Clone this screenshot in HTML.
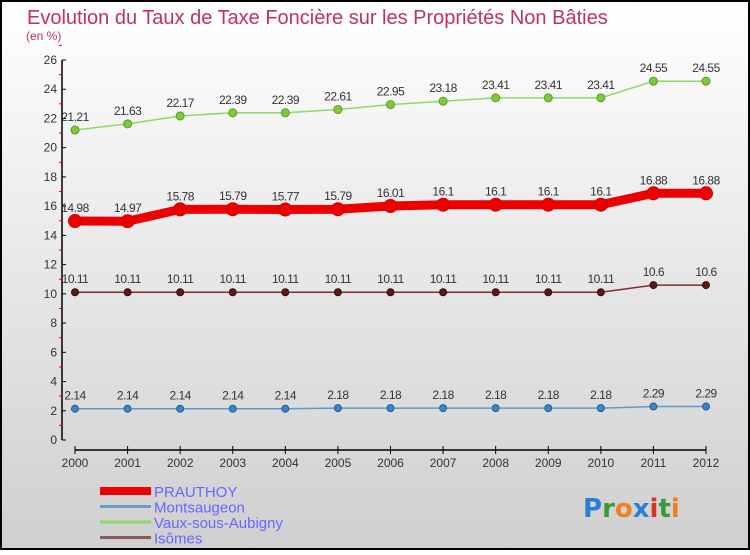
<!DOCTYPE html>
<html><head><meta charset="utf-8">
<style>
html,body{margin:0;padding:0;}
body{width:750px;height:550px;overflow:hidden;font-family:"Liberation Sans",sans-serif;}
</style></head>
<body>
<svg id="chart" width="750" height="550" xmlns="http://www.w3.org/2000/svg">
<defs>
<linearGradient id="bg" x1="0" y1="0" x2="0" y2="1">
<stop offset="0" stop-color="#ffffff"/><stop offset="1" stop-color="#cfcfcf"/>
</linearGradient>
</defs>
<rect x="1" y="1" width="748" height="548" fill="url(#bg)" stroke="#000" stroke-width="2"/>
<text x="27" y="24" font-size="20" fill="#c0306a" font-family="Liberation Sans, sans-serif">Evolution du Taux de Taxe Foncière sur les Propriétés Non Bâties</text>
<text x="26" y="40" font-size="12" fill="#c0306a">(en %)</text>
<g id="axes"></g>
<g id="series"></g>
<g id="legend"></g>
<text x="583" y="517" font-size="26" font-weight="bold" fill="#2a7fd4" font-family="DejaVu Sans, sans-serif">P<tspan fill="#3a9a3a">r</tspan><tspan fill="#f08020">o</tspan><tspan fill="#2a7fd4">x</tspan><tspan fill="#e03020">i</tspan><tspan fill="#3a9a3a">t</tspan><tspan fill="#f08020">i</tspan></text>
</svg>
<script>
const years=[2000,2001,2002,2003,2004,2005,2006,2007,2008,2009,2010,2011,2012];
const prauthoy=[14.98,14.97,15.78,15.79,15.77,15.79,16.01,16.1,16.1,16.1,16.1,16.88,16.88];
const montsaugeon=[2.14,2.14,2.14,2.14,2.14,2.18,2.18,2.18,2.18,2.18,2.18,2.29,2.29];
const vaux=[21.21,21.63,22.17,22.39,22.39,22.61,22.95,23.18,23.41,23.41,23.41,24.55,24.55];
const isomes=[10.11,10.11,10.11,10.11,10.11,10.11,10.11,10.11,10.11,10.11,10.11,10.6,10.6];
const yTicks=[0,2,4,6,8,10,12,14,16,18,20,22,24,26];
const NS="http://www.w3.org/2000/svg";
function X(i){return 75+i*(706-75)/(years.length-1);}
function Y(v){return 440-v*(380/26);}
function mk(tag,attrs,parent){const e=document.createElementNS(NS,tag);for(const k in attrs)e.setAttribute(k,attrs[k]);parent.appendChild(e);return e;}
const axes=document.getElementById('axes');
let a=mk('line',{x1:62,y1:Y(26),x2:62,y2:440,stroke:'#000','stroke-width':1.5},axes);


yTicks.forEach(t=>{
 mk('line',{x1:62,y1:Y(t),x2:66,y2:Y(t),stroke:'#000'},axes);
 const m=mk('line',{x1:59,y1:Y(t+1),x2:62,y2:Y(t+1),stroke:'#e00'},axes);
 const tx=mk('text',{x:57,y:Y(t)+4,'text-anchor':'end','font-size':12,fill:'#333'},axes);
 tx.textContent=t;
 
 
});
let xa=mk('line',{x1:75,y1:450,x2:706,y2:450,stroke:'#000','stroke-width':1.5},axes);


years.forEach((y,i)=>{
 mk('line',{x1:X(i),y1:446,x2:X(i),y2:454,stroke:'#000'},axes);
 const tx=mk('text',{x:X(i),y:467,'text-anchor':'middle','font-size':12,fill:'#333'},axes);
 tx.textContent=y;
 
 
});
const ser=document.getElementById('series');
function draw(vals,name,color,w,r,dot,dotStroke){
 const g=mk('g',{},ser);
 
 
 const pts=vals.map((v,i)=>X(i)+','+Y(v)).join(' ');
 mk('polyline',{points:pts,fill:'none',stroke:color,'stroke-width':w,'stroke-linejoin':'round'},g);
 vals.forEach((v,i)=>{
  const c=mk('circle',{cx:X(i),cy:Y(v),r:r,fill:dot,stroke:dotStroke,'stroke-width':1},g);
  
  
  const t=mk('text',{x:X(i),y:Y(v)-9,'text-anchor':'middle','font-size':12,fill:'#333','letter-spacing':'-0.5'},g);
  t.textContent=v;
  
  
 });
}
draw(vaux,'vaux-sous-aubigny','#8fd86a',1.5,4,'#7ccc3a','#5a9a2a');
draw(isomes,'isomes','#7a3030',1.5,3.5,'#5a1a1a','#3a0a0a');
draw(montsaugeon,'montsaugeon','#5a9ad0',1.5,3.5,'#3a86cc','#2a5a8a');
draw(prauthoy,'prauthoy','#ee0000',9,6.5,'#ee0000','#cc0000');
const leg=document.getElementById('legend');
const items=[['PRAUTHOY','#ee0000',8],['Montsaugeon','#6a9cc8',3],['Vaux-sous-Aubigny','#8fd86a',3],['Isômes','#8a5a5a',3]];
items.forEach((it,i)=>{
 const y=491+i*15.5;
 const g=mk('g',{},leg);
 
 
 mk('line',{x1:100,y1:y,x2:151,y2:y,stroke:it[1],'stroke-width':it[2]},g);
 const t=mk('text',{x:154,y:y+6,'font-size':15,fill:'#6666ff'},g);
 t.textContent=it[0];
});
</script>
</body></html>
